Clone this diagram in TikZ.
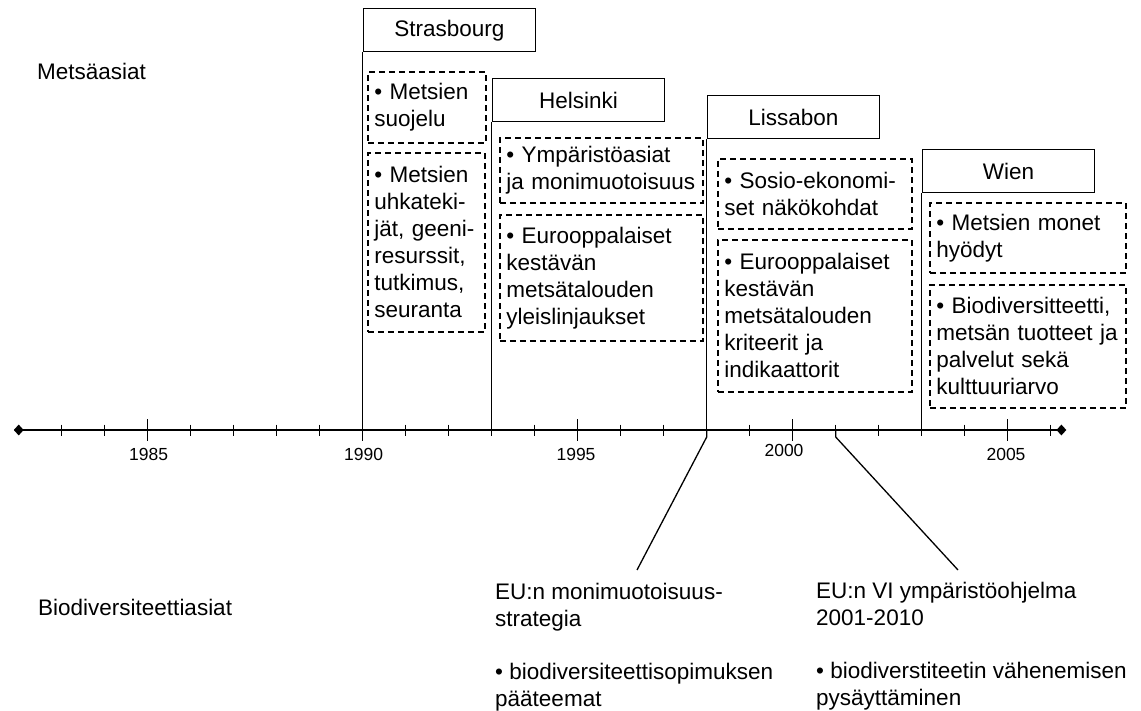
\documentclass[tikz,border=0pt]{standalone}
\usepackage{fontspec}
\setmainfont{Liberation Sans}
\usetikzlibrary{shapes.geometric}
\begin{document}
\begin{tikzpicture}[x=1pt,y=-1pt,
  every node/.style={font=\fontsize{22.5}{27}\selectfont},
  place/.style={draw, line width=1.5pt, fill=white, inner sep=0pt,
    minimum width=172pt, minimum height=43pt, anchor=north west, align=center},
  topic/.style={draw, dash pattern=on 6pt off 4pt, line width=1.6pt,
    inner xsep=6.5pt, inner ysep=0pt, anchor=north west, align=left},
  yearlab/.style={font=\fontsize{17.5}{20}\selectfont, anchor=base, inner sep=0pt},
  note/.style={anchor=base west, align=left, inner sep=0pt},
  axisline/.style={line width=2.8pt},
  tick/.style={line width=1.5pt},
  stem/.style={line width=1.5pt},
  conn/.style={line width=1.3pt},
  endmark/.style={diamond, fill=black, inner sep=0pt, minimum width=10pt, minimum height=11pt}
]
\useasboundingbox (0,0) rectangle (1141,711);

% time axis 1982 -- 2006, 43 units per year, 1990 at x = 362.7
\node[endmark] (axL) at (18.7,430) {};
\node[endmark] (axR) at (1061.4,430) {};
\draw[axisline] (axL.center) -- (axR.center);
\foreach \yr in {1983,...,2006}
  \draw[tick] ({362.7+(\yr-1990)*43},424.5) -- ++(0,11);
\foreach \yr in {1985,1990,...,2005}
  \draw[tick] ({362.7+(\yr-1990)*43},419) -- ++(0,22);

\node[yearlab] (y1985) at (148.7,460) {1985};
\node[yearlab] (y1990) at (363.7,460) {1990};
\node[yearlab] (y1995) at (576,460) {1995};
\node[yearlab] (y2000) at (784,456) {2000};
\node[yearlab] (y2005) at (1006,460) {2005};

% row labels
\node[note] (forest) at (37,80) {Metsäasiat};
\node[note] (biodiv) at (38,615) {Biodiversiteettiasiat};

% ministerial conferences
\node[place] (sb) at (362.7,8) {Strasbourg};
\node[place] (hk) at (491.7,78) {Helsinki};
\node[place] (lb) at (706.7,95) {Lissabon};
\node[place] (wn) at (921.7,149) {Wien};

\draw[stem] (sb.south west) -- (sb.south west |- axL.center);
\draw[stem] (hk.south west) -- (hk.south west |- axL.center);
\draw[stem] (lb.south west) -- (lb.south west |- axL.center);
\draw[stem] (wn.south west) -- (wn.south west |- axL.center);

% resolutions
\node[topic, text width=105pt, minimum height=71pt] (s1) at (367,71)
  {• Metsien\\suojelu};
\node[topic, text width=104pt, minimum height=179pt] (s2) at (367,152)
  {• Metsien\\uhkateki-\\jät, geeni-\\resurssit,\\tutkimus,\\seuranta};
\node[topic, text width=190pt, minimum height=65pt] (h1) at (499,137)
  {• Ympäristöasiat\\ja monimuotoisuus};
\node[topic, text width=190pt, minimum height=126pt] (h2) at (499,214)
  {• Eurooppalaiset\\kestävän\\metsätalouden\\yleislinjaukset};
\node[topic, text width=181pt, minimum height=70pt] (l1) at (717,158)
  {• Sosio-ekonomi-\\set näkökohdat};
\node[topic, text width=181pt, minimum height=152pt] (l2) at (717,239)
  {• Eurooppalaiset\\kestävän\\metsätalouden\\kriteerit ja\\indikaattorit};
\node[topic, text width=183pt, minimum height=70pt] (w1) at (929,202)
  {• Metsien monet\\hyödyt};
\node[topic, text width=183pt, minimum height=123pt] (w2) at (929,284)
  {• Biodiversitteetti,\\metsän tuotteet ja\\palvelut sekä\\kulttuuriarvo};

% EU biodiversity policy (base anchor sits on the last line)
\node[note] (eu1) at (495,706)
  {EU:n monimuotoisuus-\\strategia\\[26pt]• biodiversiteettisopimuksen\\pääteemat};
\node[note] (eu2) at (816,705)
  {EU:n VI ympäristöohjelma\\2001-2010\\[26pt]• biodiverstiteetin vähenemisen\\pysäyttäminen};

\coordinate (t1998) at (706.7,430);
\coordinate (t2001) at (835.7,430);
\coordinate (e1) at (637,570);
\coordinate (e2) at (958,570);
\draw[conn] (t1998) -- ++(0,7) -- (e1);
\draw[conn] (t2001) -- ++(0,7) -- (e2);
\end{tikzpicture}
\end{document}
